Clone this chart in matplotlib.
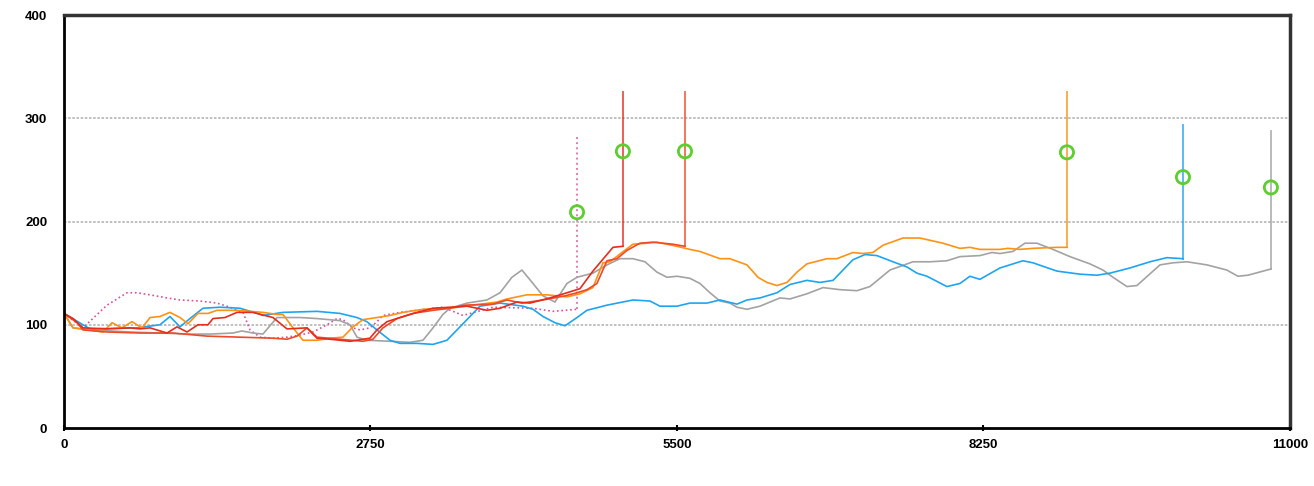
import numpy as np
import matplotlib.pyplot as plt

# series data (x, y), last point of each line is followed by a vertical spike
blue_x = [0, 233, 655, 861, 951, 1041, 1130, 1247, 1400, 1579, 1732, 1785, 1965, 2270, 2476, 2629, 2718, 2808, 2925, 3015,
          3167, 3311, 3436, 3616, 3732, 3912, 4118, 4208, 4298, 4405, 4495, 4603, 4692, 4872, 5105, 5258, 5347, 5500, 5616,
          5769, 5886, 6038, 6128, 6245, 6397, 6514, 6666, 6783, 6900, 7079, 7187, 7294, 7438, 7563, 7653, 7743, 7922, 8039,
          8129, 8218, 8398, 8604, 8694, 8909, 9116, 9268, 9385, 9564, 9744, 9896, 10040]
blue_y = [111, 96, 97, 100, 108, 98, 106, 116, 117, 116, 111, 109, 112, 113, 111, 107, 103, 95, 85, 82,
          82, 81, 85, 105, 118, 121, 118, 115, 108, 102, 99, 107, 114, 119, 124, 123, 118, 118, 121,
          121, 124, 120, 124, 126, 131, 139, 143, 141, 143, 163, 168, 167, 161, 156, 150, 147, 137, 140,
          147, 144, 155, 162, 160, 152, 149, 148, 150, 155, 161, 165, 164]
blue_top = 293

gray_x = [0, 81, 260, 592, 861, 1104, 1310, 1516, 1597, 1696, 1785, 1911, 1965, 2117, 2270, 2476, 2566, 2629, 2718, 2925,
          3104, 3221, 3311, 3400, 3463, 3616, 3795, 3912, 4019, 4109, 4208, 4298, 4405, 4513, 4603, 4746, 4872, 4988, 5105,
          5213, 5320, 5410, 5500, 5616, 5706, 5796, 5886, 5975, 6038, 6128, 6245, 6424, 6514, 6666, 6810, 6962, 7115, 7231,
          7411, 7617, 7770, 7922, 8039, 8218, 8326, 8398, 8514, 8622, 8730, 8873, 9026, 9205, 9322, 9412, 9537, 9627, 9834,
          9950, 10076, 10255, 10434, 10533, 10623, 10829]
gray_y = [111, 97, 95, 93, 92, 91, 91, 92, 94, 92, 91, 107, 107, 107, 106, 104, 100, 88, 85, 84,
          83, 85, 97, 110, 116, 121, 124, 131, 146, 153, 140, 128, 122, 140, 146, 150, 158, 164, 164,
          161, 151, 146, 147, 145, 140, 131, 123, 121, 117, 115, 118, 126, 125, 130, 136, 134, 133, 137,
          153, 161, 161, 162, 166, 167, 170, 169, 171, 179, 179, 173, 166, 159, 153, 146, 137, 138, 158,
          160, 161, 158, 153, 147, 148, 154]
gray_top = 288

orange_x = [0, 81, 350, 431, 520, 610, 700, 772, 861, 951, 1041, 1113, 1202, 1292, 1373, 1552, 1669, 1785, 1911, 1965,
            2055, 2144, 2270, 2387, 2503, 2593, 2683, 2808, 2925, 3042, 3221, 3463, 3885, 3975, 4154, 4334, 4513, 4630,
            4746, 4836, 4899, 5006, 5105, 5231, 5320, 5500, 5616, 5706, 5886, 5975, 6128, 6227, 6307, 6397, 6487, 6577,
            6666, 6846, 6935, 7079, 7169, 7258, 7348, 7527, 7680, 7886, 8039, 8129, 8218, 8398, 8470, 8577, 8694, 8909, 8999]
orange_y = [111, 97, 93, 102, 97, 103, 97, 107, 108, 112, 107, 101, 111, 111, 114, 114, 113, 112, 110, 110,
            97, 85, 85, 87, 88, 98, 105, 107, 109, 112, 115, 116, 122, 125, 129, 129, 127, 130,
            136, 160, 161, 170, 178, 179, 180, 176, 173, 171, 164, 164, 158, 146, 141, 138, 141, 151,
            159, 164, 164, 170, 169, 170, 177, 184, 184, 179, 174, 175, 173, 173, 174, 173, 174, 175, 175]
orange_top = 325

red1_x = [0, 81, 170, 386, 592, 682, 772, 924, 1014, 1104, 1202, 1292, 1337, 1444, 1552, 1696, 1875, 2001, 2180, 2270,
          2387, 2566, 2745, 2808, 2898, 3015, 3167, 3311, 3616, 3795, 3912, 4064, 4181, 4360, 4513, 4630, 4746, 4926, 5015]
red1_y = [111, 106, 97, 96, 97, 96, 97, 92, 98, 93, 100, 100, 106, 107, 112, 112, 107, 96, 97, 87,
          86, 84, 87, 95, 103, 107, 112, 116, 118, 114, 116, 122, 121, 126, 131, 135, 152, 175, 176]
red1_top = 325

red2_x = [0, 117, 170, 386, 682, 978, 1283, 1579, 1875, 2001, 2091, 2180, 2270, 2476, 2683, 2772, 2862, 2988, 3131, 3311,
          3463, 3598, 3849, 3975, 4109, 4298, 4495, 4603, 4692, 4782, 4872, 4962, 5051, 5168, 5284, 5464, 5572]
red2_y = [111, 102, 95, 93, 92, 92, 89, 88, 87, 86, 89, 97, 88, 86, 84, 86, 97, 106, 111, 114,
          116, 119, 120, 124, 121, 124, 128, 131, 134, 140, 162, 164, 172, 179, 180, 178, 176]
red2_top = 325

pink_x = [0, 170, 386, 565, 655, 772, 924, 1041, 1220, 1373, 1489, 1606, 1669, 1759, 1875, 2001, 2117, 2234, 2360, 2449,
          2503, 2593, 2656, 2745, 2808, 2862, 3015, 3167, 3400, 3580, 3849, 4208, 4387, 4603]
pink_y = [111, 97, 119, 131, 131, 129, 126, 124, 123, 121, 117, 112, 95, 88, 87, 88, 90, 93, 100, 106,
          105, 97, 95, 97, 103, 109, 112, 114, 117, 109, 117, 116, 113, 115]
pink_top = 284

mark_x = [4603, 5015, 5572, 8999, 10040, 10829]
mark_y = [209, 268, 268, 267, 243, 233]

fig = plt.figure(figsize=(13.14, 4.86), dpi=100)
ax = fig.add_axes([0.0487, 0.1193, 0.933, 0.8498])

series = [
    (pink_x, pink_y, pink_top, '#d9509b', ':'),
    (gray_x, gray_y, gray_top, '#a3a3a3', '-'),
    (blue_x, blue_y, blue_top, '#1ea5f2', '-'),
    (orange_x, orange_y, orange_top, '#ff9214', '-'),
    (red2_x, red2_y, red2_top, '#ee4a2a', '-'),
    (red1_x, red1_y, red1_top, '#e62c1c', '-'),
]
for xs, ys, top, col, ls in series:
    ax.plot(xs, ys, color=col, lw=1.2, ls=ls)
    ax.plot([xs[-1], xs[-1]], [ys[-1], top], color=col, lw=1.4, ls=ls, alpha=0.75)

ax.scatter(mark_x, mark_y, s=90, facecolors='none', edgecolors='#5ccf2e', linewidths=2, zorder=5)

ax.set_xlim(0, 11000)
ax.set_ylim(0, 400)
ax.set_xticks([0, 2750, 5500, 8250, 11000])
ax.set_yticks([0, 100, 200, 300, 400])
for y in [100, 200, 300]:
    ax.axhline(y, color='#b5b5b5', lw=1.2, ls=(0, (1.5, 1)), zorder=0)

ax.tick_params(axis='y', length=0, pad=12)
ax.tick_params(axis='x', length=4, width=1.5, direction='inout', pad=6)
for lab in ax.get_xticklabels() + ax.get_yticklabels():
    lab.set_fontweight('bold')
    lab.set_fontsize(9.5)
    lab.set_family('Liberation Sans')

ax.spines['left'].set_linewidth(2)
ax.spines['bottom'].set_linewidth(2)
ax.spines['top'].set_linewidth(2.5)
ax.spines['right'].set_linewidth(2.5)
ax.spines['top'].set_color('#333333')
ax.spines['right'].set_color('#333333')

fig.savefig('out.png', dpi=100)
